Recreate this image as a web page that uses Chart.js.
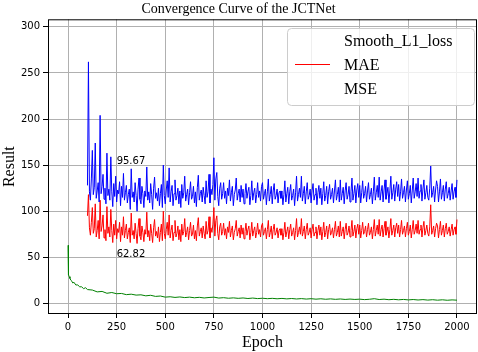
<!DOCTYPE html>
<html>
<head>
<meta charset="utf-8">
<script src="https://cdn.jsdelivr.net/npm/chart.js@4.4.0/dist/chart.umd.min.js"></script>
<style>
  body { margin: 0; background: #fff; }
</style>
</head>
<body>
<canvas id="curveChart" width="478" height="352"></canvas>
<script>
const xTicks = [0, 250, 500, 750, 1000, 1250, 1500, 1750, 2000];
const yTicks = [0, 50, 100, 150, 200, 250, 300];
const seriesNames = ['Smooth_L1_loss', 'MAE', 'MSE'];

// MAE / MSE are read every 5 epochs from epoch 100 (one row = 100 epochs)
const evalStart = 100;
const evalStep = 5;

const maeValues = [
  95, 118, 82, 74, 88, 104, 76, 81, 108, 72, 79, 90, 70, 112, 78, 84, 96, 71, 80, 68,
  105, 76, 83, 72, 102, 79, 66, 86, 74, 90, 70, 81, 77, 88, 67, 83, 74, 94, 71, 79,
  86, 70, 77, 82, 66, 98, 74, 79, 70, 87, 76, 65, 81, 92, 73, 69, 84, 77, 67, 80,
  75, 99, 72, 79, 68, 86, 76, 66, 82, 91, 73, 78, 71, 83, 67, 77, 86, 68, 100, 76,
  70, 80, 88, 74, 96, 71, 79, 85, 68, 77, 90, 72, 76, 84, 69, 80, 67, 86, 74, 78,
  92, 72, 77, 83, 69, 79, 88, 73, 75, 85, 70, 79, 68, 84, 93, 73, 78, 82, 71, 84,
  76, 70, 89, 75, 79, 94, 71, 82, 77, 86, 104, 73, 90, 95, 76, 69, 83, 87, 74, 78,
  87, 74, 81, 70, 83, 77, 89, 72, 79, 84, 69, 77, 81, 90, 73, 78, 82, 71, 85, 75,
  82, 70, 78, 87, 74, 80, 84, 69, 77, 88, 73, 79, 83, 71, 77, 87, 75, 80, 72, 84,
  87, 74, 78, 82, 70, 80, 90, 72, 77, 84, 70, 80, 86, 74, 77, 82, 71, 79, 81, 74,
  81, 69, 77, 88, 72, 78, 83, 70, 80, 86, 73, 77, 82, 69, 79, 92, 72, 77, 83, 75,
  92, 73, 78, 84, 70, 80, 87, 74, 77, 82, 71, 80, 86, 73, 77, 83, 70, 79, 85, 74,
  83, 69, 78, 88, 72, 77, 84, 70, 80, 86, 74, 77, 82, 71, 80, 89, 73, 77, 84, 72,
  89, 73, 78, 83, 70, 80, 87, 74, 77, 84, 72, 79, 90, 73, 78, 85, 71, 81, 86, 75,
  85, 71, 79, 88, 75, 78, 84, 72, 80, 87, 74, 77, 83, 70, 80, 91, 73, 79, 85, 75,
  91, 73, 80, 85, 72, 81, 89, 74, 78, 83, 71, 80, 92, 74, 79, 85, 72, 82, 87, 76,
  85, 72, 80, 90, 75, 79, 84, 72, 81, 88, 74, 78, 85, 71, 80, 90, 75, 79, 86, 76,
  90, 75, 80, 85, 72, 82, 89, 74, 79, 85, 76, 73, 83, 107, 75, 79, 84, 72, 81, 87,
  84, 71, 80, 89, 74, 79, 85, 72, 81, 87, 75, 78, 83, 73, 80, 86, 74, 80, 83, 75,
  91
];

const mseValues = [
  128, 262, 121, 112, 135, 166, 118, 126, 174, 114, 122, 131, 110, 204, 119, 127, 140, 113, 125, 108,
  163, 117, 124, 112, 159, 121, 105, 130, 116, 138, 110, 123, 119, 132, 106, 127, 115, 141, 112, 120,
  128, 109, 118, 124, 102, 146, 115, 121, 110, 131, 117, 100, 124, 136, 113, 108, 127, 119, 104, 122,
  116, 148, 112, 121, 109, 130, 118, 102, 125, 137, 114, 120, 111, 125, 106, 119, 129, 104, 150, 117,
  108, 123, 133, 115, 147, 110, 121, 128, 106, 119, 134, 112, 117, 125, 108, 122, 104, 129, 114, 120,
  138, 111, 118, 124, 107, 120, 132, 113, 116, 127, 109, 121, 105, 126, 139, 112, 119, 123, 110, 126,
  117, 108, 133, 115, 121, 140, 109, 124, 118, 129, 158, 112, 135, 142, 116, 106, 125, 131, 113, 119,
  131, 114, 122, 108, 125, 117, 134, 111, 120, 127, 106, 118, 123, 136, 112, 119, 124, 110, 128, 115,
  124, 108, 119, 130, 114, 121, 126, 107, 117, 133, 112, 120, 125, 109, 118, 131, 115, 122, 111, 127,
  131, 113, 119, 124, 107, 121, 135, 111, 118, 127, 108, 122, 130, 113, 117, 124, 109, 120, 122, 114,
  122, 107, 118, 133, 110, 119, 126, 108, 121, 129, 112, 117, 124, 106, 120, 138, 111, 118, 125, 115,
  138, 111, 119, 127, 108, 121, 131, 113, 117, 124, 109, 122, 130, 112, 118, 125, 107, 120, 128, 114,
  125, 107, 119, 132, 111, 117, 127, 108, 121, 129, 113, 118, 125, 109, 122, 134, 112, 118, 126, 110,
  134, 112, 119, 126, 108, 122, 131, 113, 118, 127, 110, 121, 136, 112, 119, 128, 109, 123, 130, 115,
  128, 109, 120, 133, 114, 119, 127, 110, 122, 131, 113, 118, 125, 108, 121, 137, 112, 120, 128, 115,
  137, 112, 121, 128, 110, 123, 134, 113, 119, 126, 109, 122, 138, 113, 120, 129, 111, 124, 132, 116,
  129, 111, 121, 135, 114, 120, 127, 110, 123, 133, 113, 119, 128, 109, 122, 136, 114, 121, 130, 116,
  136, 114, 122, 129, 111, 124, 134, 113, 120, 128, 115, 112, 125, 149, 115, 120, 127, 110, 123, 133,
  127, 110, 121, 135, 113, 120, 128, 111, 124, 132, 114, 119, 126, 112, 122, 130, 113, 121, 126, 115,
  134
];

// training loss: dense at the start, then every 25 epochs
const lossEarlyEpochs = [0, 1, 2, 4, 6, 10, 15, 20, 25, 30, 40, 50, 60, 70, 80, 90];
const lossEarlyValues = [63, 40, 34, 31, 29, 27, 25, 24, 22, 23, 20, 20, 18, 18, 16, 17];
const lossStep = 25;
const lossLateValues = [
  15, 14.5, 12.5, 13, 11, 11.8, 10.5, 10.8, 9.5, 10, 9, 9.3, 8.2, 8.8, 7.6, 8, 6.8,
  7.2, 6.5, 7, 6.3, 6.8, 6.1, 6.6, 5.9, 6.4, 6.8, 5.8, 6.2, 5.6, 6, 5.5, 5.9, 5.3, 5.8, 5.2, 5.6,
  5.1, 5.5, 5, 5.4, 4.9, 5.3, 4.8, 5.2, 4.7, 5.1, 4.6, 5, 4.5, 4.9, 4.4, 4.8, 4.3, 4.7, 4.3, 4.6,
  4.1, 4.5, 5.1, 4.2, 4.6, 4, 4.4, 3.9, 4.3, 3.8, 4.2, 3.7, 4.1, 3.6, 4, 3.5, 3.9, 3.4, 3.8, 3.5
];

const bestMSE = 95.67;
const bestMAE = 62.82;

function evalPoints(values) {
  return values.map((v, i) => ({ x: evalStart + i * evalStep, y: v }));
}

const lossPoints = lossEarlyEpochs.map((e, i) => ({ x: e, y: lossEarlyValues[i] }))
  .concat(lossLateValues.map((v, i) => ({ x: 100 + i * lossStep, y: v })));

const notes = [
  { text: bestMSE.toFixed(2), epoch: 250, y: 154 },
  { text: bestMAE.toFixed(2), epoch: 250, y: 53 }
];

const legendLineColors = [null, '#ff0000', null];

const framePlugin = {
  id: 'frame',
  afterDatasetsDraw(chart) {
    const { ctx, chartArea: a, scales: { x, y } } = chart;
    ctx.save();

    ctx.font = '10px "DejaVu Sans"';
    ctx.fillStyle = '#000';
    ctx.textAlign = 'left';
    ctx.textBaseline = 'middle';
    notes.forEach(n => ctx.fillText(n.text, x.getPixelForValue(n.epoch), y.getPixelForValue(n.y)));

    ctx.strokeStyle = '#000';
    ctx.lineWidth = 1;
    ctx.strokeRect(a.left + 0.5, a.top + 0.5, a.right - a.left - 1, a.bottom - a.top - 1);

    // legend box, upper right
    ctx.beginPath();
    ctx.roundRect(287.5, 28.5, 187, 77, 4);
    ctx.fillStyle = 'rgba(255,255,255,0.8)';
    ctx.fill();
    ctx.strokeStyle = '#cccccc';
    ctx.stroke();

    ctx.font = '16px "Liberation Serif"';
    ctx.fillStyle = '#000';
    chart.data.datasets.forEach((ds, i) => {
      const rowY = 42 + i * 24;
      if (legendLineColors[i]) {
        ctx.beginPath();
        ctx.strokeStyle = legendLineColors[i];
        ctx.moveTo(295, rowY - 1.5);
        ctx.lineTo(330, rowY - 1.5);
        ctx.stroke();
      }
      ctx.fillText(ds.label, 344, rowY);
    });
    ctx.restore();
  }
};

new Chart(document.getElementById('curveChart'), {
  type: 'line',
  data: {
    datasets: [
      { label: seriesNames[0], data: lossPoints, borderColor: '#008000', order: 3 },
      { label: seriesNames[1], data: evalPoints(maeValues), borderColor: '#ff0000', order: 2 },
      { label: seriesNames[2], data: evalPoints(mseValues), borderColor: '#0000ff', order: 1 }
    ]
  },
  options: {
    responsive: false,
    animation: false,
    layout: { padding: { left: 0, right: 1, top: 0, bottom: 0 } },
    elements: {
      line: { borderWidth: 1, tension: 0 },
      point: { radius: 0 }
    },
    plugins: {
      legend: { display: false },
      tooltip: { enabled: false },
      title: {
        display: true,
        text: 'Convergence Curve of the JCTNet',
        color: '#000',
        font: { family: 'Liberation Serif', size: 14, weight: 'normal' },
        padding: { top: 1, bottom: 1.5 }
      }
    },
    scales: {
      x: {
        type: 'linear',
        min: -103,
        max: 2103,
        afterBuildTicks: axis => { axis.ticks = xTicks.map(v => ({ value: v })); },
        afterFit: axis => { axis.height = 38; },
        ticks: {
          color: '#000',
          font: { family: 'DejaVu Sans', size: 10 },
          padding: 3,
          maxRotation: 0,
          callback: v => String(v)
        },
        grid: { color: '#b0b0b0', lineWidth: 1, tickLength: 4, tickColor: '#000' },
        border: { display: false },
        title: {
          display: true,
          text: 'Epoch',
          color: '#000',
          font: { family: 'Liberation Serif', size: 16 },
          padding: 0
        }
      },
      y: {
        min: -11.5,
        max: 308.2,
        afterBuildTicks: axis => { axis.ticks = yTicks.map(v => ({ value: v })); },
        afterFit: axis => { axis.width = 48; },
        ticks: {
          color: '#000',
          font: { family: 'DejaVu Sans', size: 10 },
          padding: 3,
          callback: v => String(v)
        },
        grid: { color: '#b0b0b0', lineWidth: 1, tickLength: 5, tickColor: '#000' },
        border: { display: false },
        title: {
          display: true,
          text: 'Result',
          color: '#000',
          font: { family: 'Liberation Serif', size: 16 },
          padding: 0
        }
      }
    }
  },
  plugins: [framePlugin]
});
</script>
</body>
</html>
